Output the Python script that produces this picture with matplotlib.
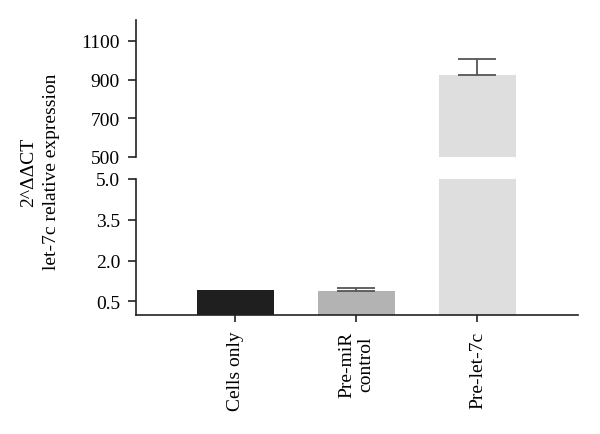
import matplotlib
matplotlib.use("Agg")
import matplotlib.pyplot as plt
import numpy as np

categories = ["Cells only", "Pre-miR\ncontrol", "Pre-let-7c"]
values = [0.92, 0.88, 925]
errors = [0.0, 0.10, 82]
colors = ["#1f1f1f", "#b3b3b3", "#dedede"]
upper_ticks = [500, 700, 900, 1100]
lower_ticks = [0.5, 2.0, 3.5, 5.0]

plt.rcParams['font.family'] = ['Liberation Serif', 'DejaVu Serif']
fs = 14

fig = plt.figure(figsize=(6.0, 4.35), dpi=100)
left, width = 136/600, 442/600
ax_up = fig.add_axes([left, 1-158/435, width, (158-21)/435])
ax_lo = fig.add_axes([left, 1-316/435, width, (316-180)/435])

x = np.arange(len(categories))
for ax in (ax_up, ax_lo):
    ax.bar(x, values, width=0.64, color=colors, zorder=2)
    for xi, v, e in zip(x, values, errors):
        if e > 0:
            ax.errorbar(xi, v, yerr=[[0], [e]], fmt='none', ecolor='#555555',
                        elinewidth=1.3, capsize=14, capthick=1.3, zorder=3)
    ax.set_xlim(-0.82, 2.83)
    for s in ('top', 'right'):
        ax.spines[s].set_visible(False)
    ax.spines['left'].set_linewidth(1.2)
    ax.spines['left'].set_color('#222222')
    ax.tick_params(axis='y', direction='out', length=5.5, width=1.2, labelsize=fs,
                   color='#222222', pad=6)

ax_up.set_ylim(500, 1208)
ax_up.set_yticks(upper_ticks)
ax_up.set_yticklabels([str(t) for t in upper_ticks])
ax_up.spines['bottom'].set_visible(False)
ax_up.tick_params(axis='x', bottom=False, labelbottom=False)

ax_lo.set_ylim(0, 5.0)
ax_lo.set_yticks(lower_ticks)
ax_lo.set_yticklabels([f"{t:.1f}" for t in lower_ticks])
ax_lo.spines['bottom'].set_linewidth(1.2)
ax_lo.spines['bottom'].set_color('#222222')
ax_lo.set_xticks(x)
ax_lo.set_xticklabels(categories, rotation=90, fontsize=fs, linespacing=1.2)
ax_lo.tick_params(axis='x', direction='out', length=5, width=1.2, color='#222222', pad=6)

fig.text(40/600, 1-172/435, "2^\u0394\u0394CT\nlet-7c relative expression", rotation=90,
         ha='center', va='center', multialignment='center', fontsize=fs, linespacing=1.5)

fig.savefig("out.png", dpi=100)
